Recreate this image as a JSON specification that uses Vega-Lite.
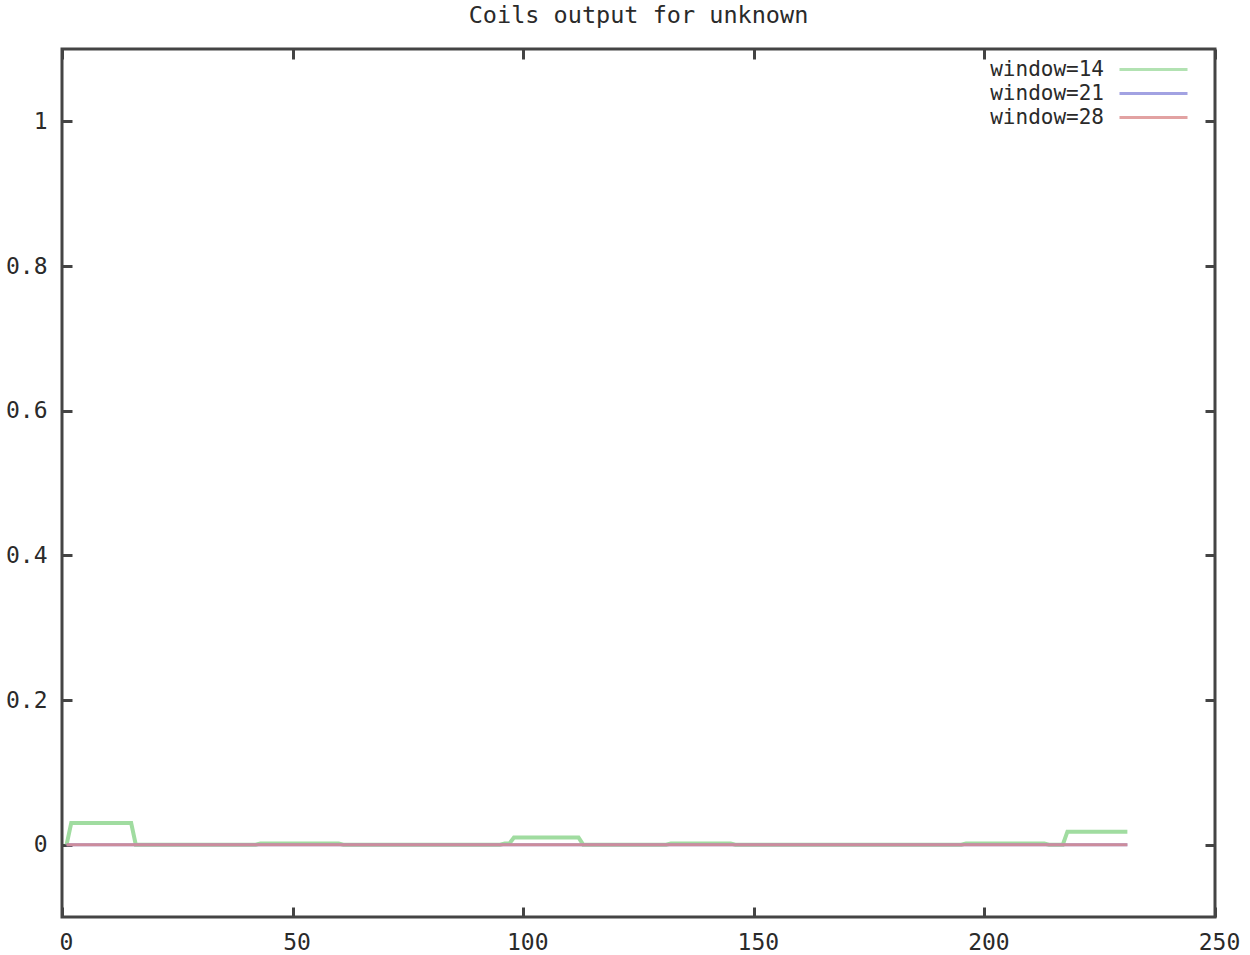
{
  "$schema": "https://vega.github.io/schema/vega-lite/v6.json",
  "autosize": {"type": "none"},
  "width": 1153,
  "height": 868,
  "padding": {"left": 62, "top": 49, "right": 35, "bottom": 38},
  "background": "white",
  "title": {
    "text": "Coils output for unknown",
    "font": "DejaVu Sans Mono",
    "fontSize": 23.5,
    "fontWeight": "normal",
    "color": "#2a2a2a",
    "anchor": "middle",
    "offset": 20
  },
  "config": {
    "view": {"stroke": "#444444", "strokeWidth": 3},
    "axis": {
      "domain": false,
      "grid": false,
      "ticks": true,
      "tickSize": -10,
      "tickWidth": 3,
      "tickColor": "#444444",
      "labelFont": "DejaVu Sans Mono",
      "labelFontSize": 23,
      "labelColor": "#2a2a2a",
      "labelFlush": false,
      "labelOverlap": false,
      "title": null
    },
    "legend": {
      "labelFont": "DejaVu Sans Mono",
      "labelFontSize": 21,
      "labelColor": "#2a2a2a"
    }
  },
  "datasets": {
    "series": [
      {"window": "window=14", "pos": 1, "value": 0},
      {"window": "window=14", "pos": 2, "value": 0.03},
      {"window": "window=14", "pos": 15, "value": 0.03},
      {"window": "window=14", "pos": 16, "value": 0},
      {"window": "window=14", "pos": 42, "value": 0},
      {"window": "window=14", "pos": 43, "value": 0.0015},
      {"window": "window=14", "pos": 60, "value": 0.0015},
      {"window": "window=14", "pos": 61, "value": 0},
      {"window": "window=14", "pos": 95, "value": 0},
      {"window": "window=14", "pos": 96, "value": 0.0015},
      {"window": "window=14", "pos": 97, "value": 0.0015},
      {"window": "window=14", "pos": 98, "value": 0.01},
      {"window": "window=14", "pos": 112, "value": 0.01},
      {"window": "window=14", "pos": 113, "value": 0},
      {"window": "window=14", "pos": 131, "value": 0},
      {"window": "window=14", "pos": 132, "value": 0.0015},
      {"window": "window=14", "pos": 145, "value": 0.0015},
      {"window": "window=14", "pos": 146, "value": 0},
      {"window": "window=14", "pos": 195, "value": 0},
      {"window": "window=14", "pos": 196, "value": 0.0015},
      {"window": "window=14", "pos": 213, "value": 0.0015},
      {"window": "window=14", "pos": 214, "value": 0},
      {"window": "window=14", "pos": 217, "value": 0},
      {"window": "window=14", "pos": 218, "value": 0.018},
      {"window": "window=14", "pos": 231, "value": 0.018},
      {"window": "window=21", "pos": 1, "value": 0},
      {"window": "window=21", "pos": 231, "value": 0},
      {"window": "window=28", "pos": 1, "value": 0},
      {"window": "window=28", "pos": 231, "value": 0}
    ]
  },
  "data": {"name": "series"},
  "layer": [
    {
      "transform": [{"filter": "datum.window == 'window=14'"}],
      "mark": {"type": "line", "strokeWidth": 4, "interpolate": "linear"},
      "encoding": {
        "x": {"field": "pos", "type": "quantitative", "scale": {"domain": [0, 250], "nice": false}, "axis": {"values": [0, 50, 100, 150, 200, 250], "labelPadding": 24, "labelOffset": 4}},
        "y": {"field": "value", "type": "quantitative", "scale": {"domain": [-0.1, 1.1], "nice": false, "zero": false}, "axis": {"values": [0, 0.2, 0.4, 0.6, 0.8, 1], "labelPadding": 25, "labelExpr": "datum.value == 0 ? '0' : datum.value == 1 ? '1' : format(datum.value, '.1f')"}},
        "color": {
          "field": "window", "type": "nominal",
          "scale": {"domain": ["window=14", "window=21", "window=28"], "range": ["#a0dca0", "#8c8cdc", "#dc8c8c"]},
          "legend": {
            "orient": "none", "legendX": 1081, "legendY": 10, "title": null,
            "symbolType": "M-4.25,0H4.25", "symbolSize": 256, "symbolStrokeWidth": 3,
            "labelAlign": "right", "labelOffset": -60, "rowPadding": 2,
            "values": ["window=14", "window=21", "window=28"]
          }
        }
      }
    },
    {
      "transform": [{"filter": "datum.window == 'window=21'"}],
      "mark": {"type": "line", "strokeWidth": 3},
      "encoding": {
        "x": {"field": "pos", "type": "quantitative", "axis": null},
        "y": {"field": "value", "type": "quantitative", "axis": null},
        "color": {"field": "window", "type": "nominal"}
      }
    },
    {
      "transform": [{"filter": "datum.window == 'window=28'"}],
      "mark": {"type": "line", "strokeWidth": 3, "opacity": 0.8},
      "encoding": {
        "x": {"field": "pos", "type": "quantitative", "axis": null},
        "y": {"field": "value", "type": "quantitative", "axis": null},
        "color": {"field": "window", "type": "nominal"}
      }
    },
    {
      "mark": {"type": "point", "opacity": 0},
      "encoding": {
        "x": {"field": "pos", "type": "quantitative", "axis": {"orient": "top", "values": [0, 50, 100, 150, 200, 250], "labels": false}},
        "y": {"field": "value", "type": "quantitative", "axis": {"orient": "right", "values": [0, 0.2, 0.4, 0.6, 0.8, 1], "labels": false}}
      }
    }
  ],
  "resolve": {"axis": {"x": "independent", "y": "independent"}}
}
